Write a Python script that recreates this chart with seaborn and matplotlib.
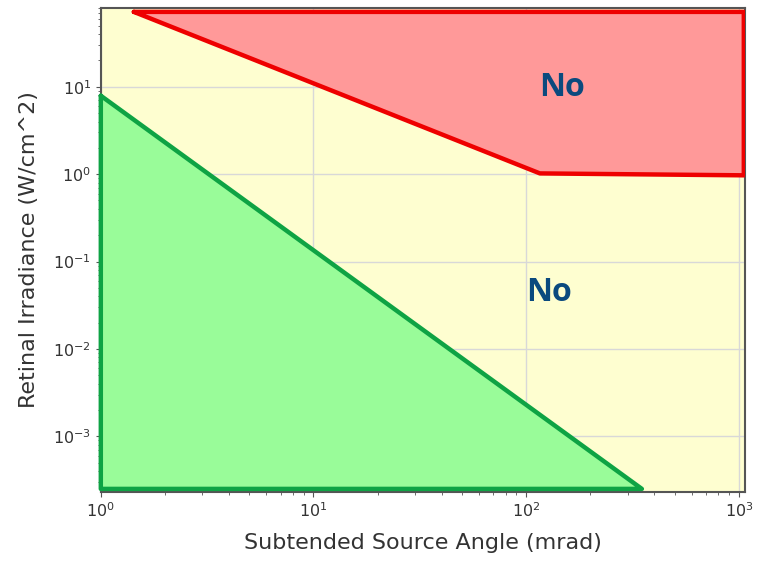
import pandas as pd
import matplotlib.pyplot as plt
import seaborn as sns

# region corners (mrad, W/cm^2)
safe_x = [1.0, 350, 1.0, 1.0]
safe_y = [7.9, 2.5e-4, 2.5e-4, 7.9]

hazard_x = [1.43, 116, 1055, 1055, 1.43]
hazard_y = [72, 1.02, 0.97, 72, 72]

labels = ['No', 'No']
label_x = [147, 128]
label_y = [9.7, 0.044]

sns.set_style('ticks')
fig = plt.figure(figsize=(7.58, 5.63), dpi=100)
ax = fig.add_axes([0.133, 0.126, 0.85, 0.86])
ax.set_facecolor('#fefed0')

ax.fill(safe_x, safe_y, color='#99fc99', zorder=2)
ax.fill(hazard_x, hazard_y, color='#ff9999', zorder=2)

safe = pd.DataFrame({'x': safe_x, 'y': safe_y})
hazard = pd.DataFrame({'x': hazard_x, 'y': hazard_y})
sns.lineplot(data=safe, x='x', y='y', sort=False, estimator=None, color='#0ea344',
             lw=3.2, ax=ax, zorder=3, clip_on=False)
sns.lineplot(data=hazard, x='x', y='y', sort=False, estimator=None, color='#ee0000',
             lw=3.2, ax=ax, zorder=3)

for t, tx, ty in zip(labels, label_x, label_y):
    ax.text(tx, ty, t, color='#0b4a7e', fontsize=23, fontweight='bold',
            family='Open Sans', ha='center', va='center', zorder=4)

ax.set_xscale('log')
ax.set_yscale('log')
ax.set_xlim(1, 1070)
ax.set_ylim(2.3e-4, 80)
ax.grid(True, which='major', color='#d8d8d8', lw=1, zorder=1)
ax.set_axisbelow(True)
for s in ax.spines.values():
    s.set_color('#555555')
    s.set_linewidth(1.5)
ax.tick_params(which='both', colors='#555555', labelcolor='#333333', labelsize=11.5)
ax.set_xlabel('Subtended Source Angle (mrad)', fontsize=16, color='#333333', labelpad=9)
ax.set_ylabel('Retinal Irradiance (W/cm^2)', fontsize=16, color='#333333', labelpad=10)

plt.savefig('out.png', dpi=100)
